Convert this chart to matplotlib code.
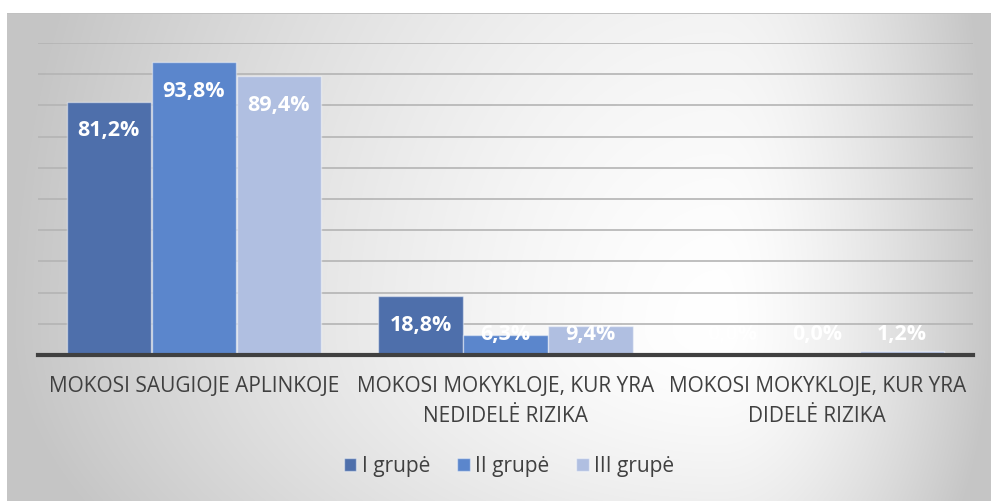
import numpy as np
import matplotlib.pyplot as plt
from matplotlib.patches import Patch

# -----------------------------
# Data
# -----------------------------
categories = [
    "MOKOSI SAUGIOJE APLINKOJE",
    "MOKOSI MOKYKLOJE, KUR YRA\nNEDIDELĖ RIZIKA",
    "MOKOSI MOKYKLOJE, KUR YRA\nDIDELĖ RIZIKA",
]
series_names = ["I grupė", "II grupė", "III grupė"]
group_1 = [81.2, 18.8, 0.0]
group_2 = [93.8, 6.3, 0.0]
group_3 = [89.4, 9.4, 1.2]
colors = ["#4e6fab", "#5b86cc", "#b0bfe1"]

plt.rcParams["font.family"] = ["Open Sans", "DejaVu Sans"]

W, H = 991, 502
fig = plt.figure(figsize=(W / 100, H / 100), dpi=100)

# -----------------------------
# Background gradient
# -----------------------------
bg = fig.add_axes([0, 0, 1, 1], zorder=-10)
yy, xx = np.mgrid[0:H, 0:W].astype(float)
cx, cy = 720.0, 330.0
dx = xx - cx
dy = yy - cy
sx = np.where(dx < 0, 713.0, 271.0)
sy = np.where(dy < 0, 900.0, 400.0)
t = np.sqrt((dx / sx) ** 2 + (dy / sy) ** 2)
t = np.clip(t, 0, 1) ** 1.5
val = (255 - 58 * t) / 255.0
val[:14, :] = 1.0
val[:, :7] = 1.0
val[14, 7:] = 0.76
img = np.dstack([val, val, val])
bg.imshow(img, aspect="auto", extent=[0, W, H, 0], interpolation="bilinear")
bg.set_xlim(0, W)
bg.set_ylim(H, 0)
bg.axis("off")

# -----------------------------
# Bars
# -----------------------------
ax = fig.add_axes([38 / W, 1 - 356 / H, (973 - 38) / W, (356 - 44) / H])
ax.patch.set_alpha(0)

x = np.arange(len(categories))
offset = 0.2727
width = 0.27
all_series = [group_1, group_2, group_3]

for i, (vals, col) in enumerate(zip(all_series, colors)):
    pos = x + (i - 1) * offset
    ax.bar(pos, vals, width=width, color=col, edgecolor=(1, 1, 1, 0.45),
           linewidth=1.0, zorder=3)
    for xp, v in zip(pos, vals):
        ylab = max(v - 9.0, 7.0)
        ax.text(xp, ylab, f"{v:.1f}%".replace(".", ","), ha="center",
                va="center", color="white", fontsize=15.5, fontweight="bold",
                zorder=5)

ax.set_xlim(-0.5, 2.5)
ax.set_ylim(0, 100)
ax.set_yticks(np.arange(10, 101, 10))
ax.yaxis.grid(True, color="#b4b4b4", linewidth=1.2, zorder=0)
ax.tick_params(axis="y", left=False, labelleft=False)
ax.tick_params(axis="x", bottom=False, labelbottom=False)
for s in ["top", "right", "left"]:
    ax.spines[s].set_visible(False)
ax.spines["bottom"].set_color("#404040")
ax.spines["bottom"].set_linewidth(3)
ax.spines["bottom"].set_zorder(6)

for xi, cat in zip(x, categories):
    ax.text(xi, -6.5, cat, ha="center", va="top", fontsize=15,
            color="#404040", linespacing=1.55)

# -----------------------------
# Legend
# -----------------------------
handles = [Patch(facecolor=c, edgecolor=(1, 1, 1, 0.45)) for c in colors]
fig.legend(handles, series_names, loc="center", bbox_to_anchor=(509 / W, 1 - 467 / H),
           ncol=3, frameon=False, fontsize=15, labelcolor="#404040",
           handlelength=0.6, handleheight=0.6, handletextpad=0.25,
           columnspacing=1.3)

fig.savefig("out.png", dpi=100)
